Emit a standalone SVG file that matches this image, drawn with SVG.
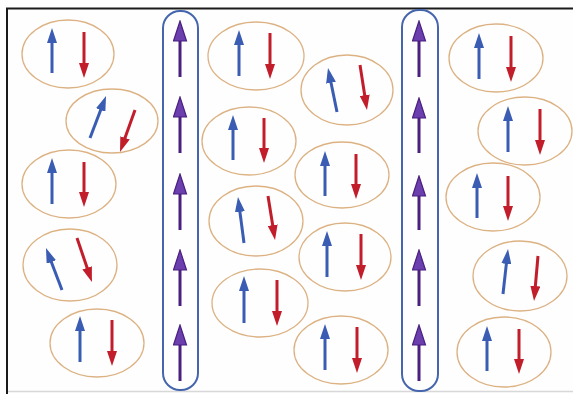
<svg xmlns="http://www.w3.org/2000/svg" width="573" height="394" viewBox="0 0 573 394">
<defs>
<style>
.bg{fill:#fefefe}
.frame{stroke:#1a1a1a;stroke-width:2;fill:none}
.bot{stroke:#d8d8d8;stroke-width:1.5;fill:none}
.pill{fill:none;stroke:#4565ad;stroke-width:2}
.ell{fill:none;stroke:#dcb283;stroke-width:1.3}
.b{stroke:#3a5db3;stroke-width:3;fill:none;marker-end:url(#hb)}
.r{stroke:#c21d2b;stroke-width:3;fill:none;marker-end:url(#hr)}
.p{stroke:#4b1f80;stroke-width:3;fill:none;marker-end:url(#hp)}
</style>
<marker id="hb" markerUnits="userSpaceOnUse" markerWidth="15" markerHeight="10" refX="4" refY="5" orient="auto"><path d="M0,0 L15,5 L0,10 z" fill="#3a5db3"/></marker>
<marker id="hr" markerUnits="userSpaceOnUse" markerWidth="15" markerHeight="10" refX="4" refY="5" orient="auto"><path d="M0,0 L15,5 L0,10 z" fill="#c21d2b"/></marker>
<marker id="hp" markerUnits="userSpaceOnUse" markerWidth="22" markerHeight="15" refX="5" refY="7.5" orient="auto"><path d="M1,1 L21,7.5 L1,14 z" fill="#6b3fae" stroke="#4b1f80" stroke-width="1.2"/></marker>
</defs>
<rect class="bg" x="0" y="0" width="573" height="394"/>
<path class="frame" d="M7,394 V8.5 H573"/>
<path class="bot" d="M8,391.5 H573"/>

<g id="chain1">
<rect class="pill" x="163" y="11" width="35" height="379" rx="17"/>
</g>
<g id="chain2">
<rect class="pill" x="402" y="10" width="36" height="381" rx="17"/>
</g>

<g id="pair-L1"><ellipse class="ell" cx="68" cy="54" rx="46" ry="34"/></g>
<g id="pair-L2"><ellipse class="ell" cx="112" cy="121" rx="46" ry="32"/></g>
<g id="pair-L3"><ellipse class="ell" cx="69" cy="184" rx="47" ry="34"/></g>
<g id="pair-L4"><ellipse class="ell" cx="70" cy="265" rx="47" ry="36"/></g>
<g id="pair-L5"><ellipse class="ell" cx="97" cy="343" rx="47" ry="34"/></g>
<g id="pair-M1"><ellipse class="ell" cx="256" cy="56" rx="48" ry="34"/></g>
<g id="pair-M2"><ellipse class="ell" cx="347" cy="90" rx="46" ry="35"/></g>
<g id="pair-M3"><ellipse class="ell" cx="249" cy="141" rx="47" ry="34"/></g>
<g id="pair-M4"><ellipse class="ell" cx="342" cy="175" rx="47" ry="33"/></g>
<g id="pair-M5"><ellipse class="ell" cx="256" cy="221" rx="47" ry="35"/></g>
<g id="pair-M6"><ellipse class="ell" cx="345" cy="257" rx="46" ry="34"/></g>
<g id="pair-M7"><ellipse class="ell" cx="260" cy="303" rx="48" ry="34"/></g>
<g id="pair-M8"><ellipse class="ell" cx="341" cy="350" rx="47" ry="34"/></g>
<g id="pair-R1"><ellipse class="ell" cx="496" cy="58" rx="47" ry="34"/></g>
<g id="pair-R2"><ellipse class="ell" cx="525" cy="131" rx="47" ry="34"/></g>
<g id="pair-R3"><ellipse class="ell" cx="493" cy="197" rx="47" ry="34"/></g>
<g id="pair-R4"><ellipse class="ell" cx="520" cy="276" rx="47" ry="35"/></g>
<g id="pair-R5"><ellipse class="ell" cx="504" cy="352" rx="47" ry="35"/></g>

<g id="connectors">
<!-- chain 1 -->
<path class="p" d="M180,77 V37"/>
<path class="p" d="M180,153 V113"/>
<path class="p" d="M180,230 V190"/>
<path class="p" d="M180,306 V266"/>
<path class="p" d="M180,381 V341"/>
<!-- chain 2 -->
<path class="p" d="M419,77 V37"/>
<path class="p" d="M419,153 V114"/>
<path class="p" d="M419,230 V192"/>
<path class="p" d="M419,306 V266"/>
<path class="p" d="M419,381 V341"/>
<!-- left column -->
<path class="b" d="M52,73 V39"/><path class="r" d="M84,32 V67"/>
<path class="b" d="M90,138 L102.1,106.3"/><path class="r" d="M135,110 L123.7,141.6"/>
<path class="b" d="M52,204 V169"/><path class="r" d="M84,162 V196"/>
<path class="b" d="M62,290 L49.9,258.3"/><path class="r" d="M77,238 L88.4,271.6"/>
<path class="b" d="M80,362 V327"/><path class="r" d="M112,320 V355"/>
<!-- middle -->
<path class="b" d="M239,76 V41"/><path class="r" d="M270,33 V68"/>
<path class="b" d="M337,112 L330.2,78.8"/><path class="r" d="M360,65 L365.3,99.1"/>
<path class="b" d="M233,160 V126"/><path class="r" d="M264,118 V152"/>
<path class="b" d="M325,196 V162"/><path class="r" d="M356,154 V188"/>
<path class="b" d="M244,243 L239.4,207.9"/><path class="r" d="M268,196 L273.3,229.1"/>
<path class="b" d="M327,277 V242"/><path class="r" d="M361,234 V269"/>
<path class="b" d="M244,323 V287"/><path class="r" d="M277,280 V315"/>
<path class="b" d="M325,370 V335"/><path class="r" d="M357,327 V362"/>
<!-- right column -->
<path class="b" d="M479,79 V44"/><path class="r" d="M511,36 V71"/>
<path class="b" d="M508,152 V117"/><path class="r" d="M540,109 V144"/>
<path class="b" d="M477,218 V184"/><path class="r" d="M508,176 V210"/>
<path class="b" d="M503,294 L506.8,259.9"/><path class="r" d="M538,256 L535,290"/>
<path class="b" d="M487,371 V337"/><path class="r" d="M519,329 V363"/>
</g>
</svg>
